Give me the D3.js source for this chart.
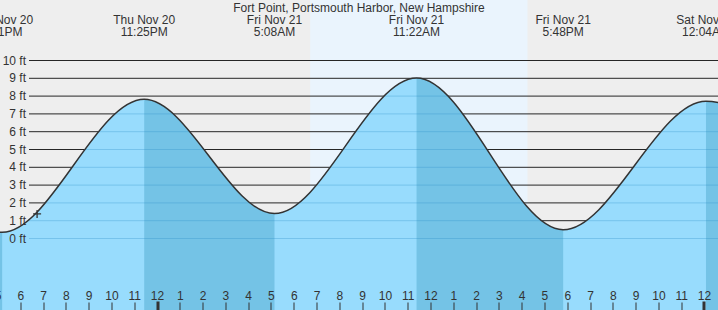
<!DOCTYPE html>
<html>
<head>
<meta charset="utf-8">
<script src="https://cdn.jsdelivr.net/npm/d3@7"></script>
<style>
  body { margin: 0; background: #eeeeee; }
  svg { display: block; font-family: "Liberation Sans", Arial, sans-serif; }
</style>
</head>
<body>
<div id="chart"></div>
<script>
// tide extremes (times local, heights in ft)
var title = "Fort Point, Portsmouth Harbor, New Hampshire";
var tideTimes = ["2025-11-20 10:58", "2025-11-20 17:11", "2025-11-20 23:25", "2025-11-21 05:08",
                 "2025-11-21 11:22", "2025-11-21 17:48", "2025-11-22 00:04", "2025-11-22 06:15"];
var tideHeights = [8.4, 0.35, 7.82, 1.40, 9.01, 0.49, 7.71, 1.3];
var tideKinds = ["H", "L", "H", "L", "H", "L", "H", "L"];
var sunTimes = ["2025-11-21 06:42", "2025-11-21 16:14"]; // sunrise, sunset
var nowTime = "2025-11-20 18:43";
var nowHeight = 1.38;
var yTicks = [0, 1, 2, 3, 4, 5, 6, 7, 8, 9, 10];

var w = 718, h = 310;
var parse = d3.timeParse("%Y-%m-%d %H:%M");

var tides = tideTimes.map(function (t, i) {
    return { t: parse(t), v: tideHeights[i], kind: tideKinds[i] };
});

var x = d3.scaleTime()
    .domain([new Date(2025, 10, 20, 17, 5, 20), new Date(2025, 10, 22, 0, 35, 38)])
    .range([0, w]);
var y = d3.scaleLinear().domain([0, 10]).range([238.5, 60.5]);

var svg = d3.select("#chart").append("svg")
    .attr("width", w)
    .attr("height", h);

// background + daylight
svg.append("rect").attr("width", w).attr("height", h).attr("fill", "#eeeeee");
svg.append("rect")
    .attr("x", x(parse(sunTimes[0])))
    .attr("width", x(parse(sunTimes[1])) - x(parse(sunTimes[0])))
    .attr("y", 0).attr("height", h)
    .attr("fill", "#eaf4fd");

// grid lines above water
svg.selectAll("line.grid")
    .data(yTicks)
    .enter()
    .append("line")
    .attr("class", "grid")
    .attr("x1", 29).attr("x2", w)
    .attr("y1", function (d) { return y(d); })
    .attr("y2", function (d) { return y(d); })
    .attr("stroke", "#262626")
    .attr("stroke-width", 1);

// water
var area = d3.area()
    .x(function (d) { return x(d.t); })
    .y0(h)
    .y1(function (d) { return y(d.v); })
    .curve(d3.curveMonotoneX);

var line = d3.line()
    .x(function (d) { return x(d.t); })
    .y(function (d) { return y(d.v); })
    .curve(d3.curveMonotoneX);

svg.append("clipPath").attr("id", "water")
    .append("path").attr("d", area(tides));

svg.append("path").attr("d", area(tides)).attr("fill", "#98dcfd");

// falling tide bands (high -> next low)
var falls = [];
tides.forEach(function (d, i) {
    if (d.kind === "H" && tides[i + 1]) falls.push([d.t, tides[i + 1].t]);
});
var wg = svg.append("g").attr("clip-path", "url(#water)");
wg.selectAll("rect")
    .data(falls)
    .enter()
    .append("rect")
    .attr("x", function (d) { return x(d[0]); })
    .attr("width", function (d) { return x(d[1]) - x(d[0]); })
    .attr("y", 0).attr("height", h)
    .attr("fill", "#74c3e6");

// grid lines under water
wg.selectAll("line")
    .data(yTicks)
    .enter()
    .append("line")
    .attr("x1", 29).attr("x2", w)
    .attr("y1", function (d) { return y(d); })
    .attr("y2", function (d) { return y(d); })
    .attr("stroke", "rgba(40,140,200,0.3)")
    .attr("stroke-width", 1);

// tide curve
svg.append("path")
    .attr("d", line(tides))
    .attr("fill", "none")
    .attr("stroke", "#333")
    .attr("stroke-width", 1.5);

// y labels
svg.selectAll("text.ylab")
    .data(yTicks)
    .enter()
    .append("text")
    .attr("class", "ylab")
    .attr("x", 26)
    .attr("y", function (d) { return y(d) + 4; })
    .attr("text-anchor", "end")
    .attr("font-size", "12px")
    .attr("fill", "#333")
    .text(function (d) { return d + " ft"; });

// current time marker
var nx = x(parse(nowTime)), ny = y(nowHeight);
svg.append("path")
    .attr("d", "M" + (nx - 4) + "," + ny + "H" + (nx + 4) + "M" + nx + "," + (ny - 4) + "V" + (ny + 4))
    .attr("stroke", "#333")
    .attr("stroke-width", 1.3);

// hour ticks
var hours = d3.timeHour.range(d3.timeHour.offset(x.domain()[0], -1), d3.timeHour.offset(x.domain()[1], 1));
var fmtHour = d3.timeFormat("%-I");
svg.selectAll("rect.tick")
    .data(hours)
    .enter()
    .append("rect")
    .attr("class", "tick")
    .attr("x", function (d) { return d.getHours() === 0 ? Math.round(x(d)) - 1.5 : Math.round(x(d)) - 0.5; })
    .attr("width", function (d) { return d.getHours() === 0 ? 3 : 1; })
    .attr("y", function (d) { return d.getHours() === 0 ? 301.5 : 302.5; })
    .attr("height", 9)
    .attr("fill", "#333");
svg.selectAll("text.hour")
    .data(hours)
    .enter()
    .append("text")
    .attr("class", "hour")
    .attr("x", function (d) { return x(d); })
    .attr("y", 299.5)
    .attr("text-anchor", "middle")
    .attr("font-size", "12px")
    .attr("fill", "#333")
    .text(function (d) { return fmtHour(d); });

// title + event labels
svg.append("text")
    .attr("x", w / 2).attr("y", 12)
    .attr("text-anchor", "middle")
    .attr("font-size", "12px")
    .attr("fill", "#333")
    .text(title);

var fmtDay = d3.timeFormat("%a %b %-d");
var fmtTime = d3.timeFormat("%-I:%M%p");
var shown = tides.filter(function (d) { return x(d.t) > -40 && x(d.t) < w + 40; });
var labs = svg.selectAll("g.ev")
    .data(shown)
    .enter()
    .append("g")
    .attr("class", "ev");
labs.append("text")
    .attr("x", function (d) { return x(d.t); })
    .attr("y", 24)
    .attr("text-anchor", "middle")
    .attr("font-size", "12px")
    .attr("fill", "#333")
    .text(function (d) { return fmtDay(d.t); });
labs.append("text")
    .attr("x", function (d) { return x(d.t); })
    .attr("y", 36)
    .attr("text-anchor", "middle")
    .attr("font-size", "12px")
    .attr("fill", "#333")
    .text(function (d) { return fmtTime(d.t); });
</script>
</body>
</html>
